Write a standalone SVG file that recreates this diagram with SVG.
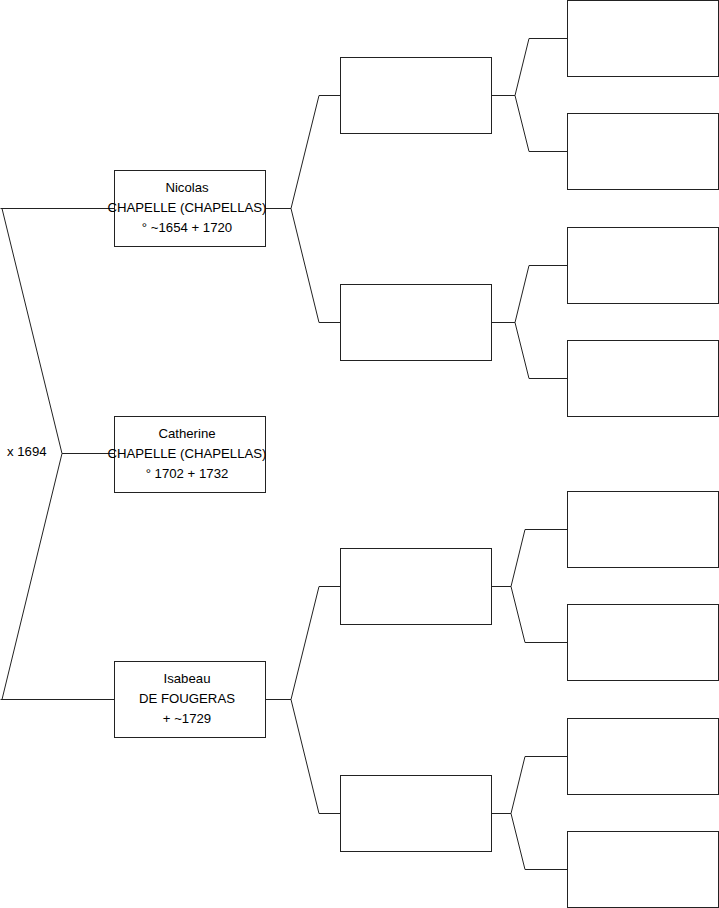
<svg xmlns="http://www.w3.org/2000/svg" width="719" height="908" viewBox="0 0 719 908">
<style>
.c{fill:none;stroke:#222;stroke-width:1}
.b{fill:#fff;stroke:#222;stroke-width:1}
text{font-family:"Liberation Sans",Arial,sans-serif;font-size:13.2px;fill:#000;text-anchor:middle}
</style>
<rect width="719" height="908" fill="#fff"/>
<g id="connectors">
<path class="c" d="M114,208.5 H0.5 M2,208.5 L62,453.5 L2,699.5 M0.5,699.5 H114 M62,453.5 H114"/>
<path class="c" d="M265,208.5 H291 L319,95.5 H341 M291,208.5 L319,322.5 H341"/>
<path class="c" d="M491,95.5 H515 L529,38.5 H567 M515,95.5 L529,151.5 H567"/>
<path class="c" d="M491,322.5 H515 L529,265.5 H567 M515,322.5 L529,378.5 H567"/>
<path class="c" d="M265,699.5 H291 L319,586.5 H341 M291,699.5 L319,813.5 H341"/>
<path class="c" d="M491,586.5 H511 L525,529.5 H567 M511,586.5 L525,642.5 H567"/>
<path class="c" d="M491,813.5 H511 L525,756.5 H567 M511,813.5 L525,869.5 H567"/>
</g>
<g id="n_nicolas"><rect class="b" x="114.5" y="170.5" width="151" height="76"/>
<text x="187" y="191.5">Nicolas</text><text x="187" y="211.5">CHAPELLE (CHAPELLAS)</text><text x="187" y="231.5">° ~1654 + 1720</text></g>
<g id="n_catherine"><rect class="b" x="114.5" y="416.5" width="151" height="76"/>
<text x="187" y="437.5">Catherine</text><text x="187" y="457.5">CHAPELLE (CHAPELLAS)</text><text x="187" y="477.5">° 1702 + 1732</text></g>
<g id="n_isabeau"><rect class="b" x="114.5" y="661.5" width="151" height="76"/>
<text x="187" y="682.5">Isabeau</text><text x="187" y="702.5">DE FOUGERAS</text><text x="187" y="722.5">+ ~1729</text></g>
<g id="n_marriage"><text x="7" y="456" style="text-anchor:start">x 1694</text></g>
<g id="n_g2a"><rect class="b" x="340.5" y="57.5" width="151" height="76"/></g>
<g id="n_g2b"><rect class="b" x="340.5" y="284.5" width="151" height="76"/></g>
<g id="n_g2c"><rect class="b" x="340.5" y="548.5" width="151" height="76"/></g>
<g id="n_g2d"><rect class="b" x="340.5" y="775.5" width="151" height="76"/></g>
<g id="n_g3a"><rect class="b" x="567.5" y="0.5" width="151" height="76"/></g>
<g id="n_g3b"><rect class="b" x="567.5" y="113.5" width="151" height="76"/></g>
<g id="n_g3c"><rect class="b" x="567.5" y="227.5" width="151" height="76"/></g>
<g id="n_g3d"><rect class="b" x="567.5" y="340.5" width="151" height="76"/></g>
<g id="n_g3e"><rect class="b" x="567.5" y="491.5" width="151" height="76"/></g>
<g id="n_g3f"><rect class="b" x="567.5" y="604.5" width="151" height="76"/></g>
<g id="n_g3g"><rect class="b" x="567.5" y="718.5" width="151" height="76"/></g>
<g id="n_g3h"><rect class="b" x="567.5" y="831.5" width="151" height="76"/></g>
</svg>
